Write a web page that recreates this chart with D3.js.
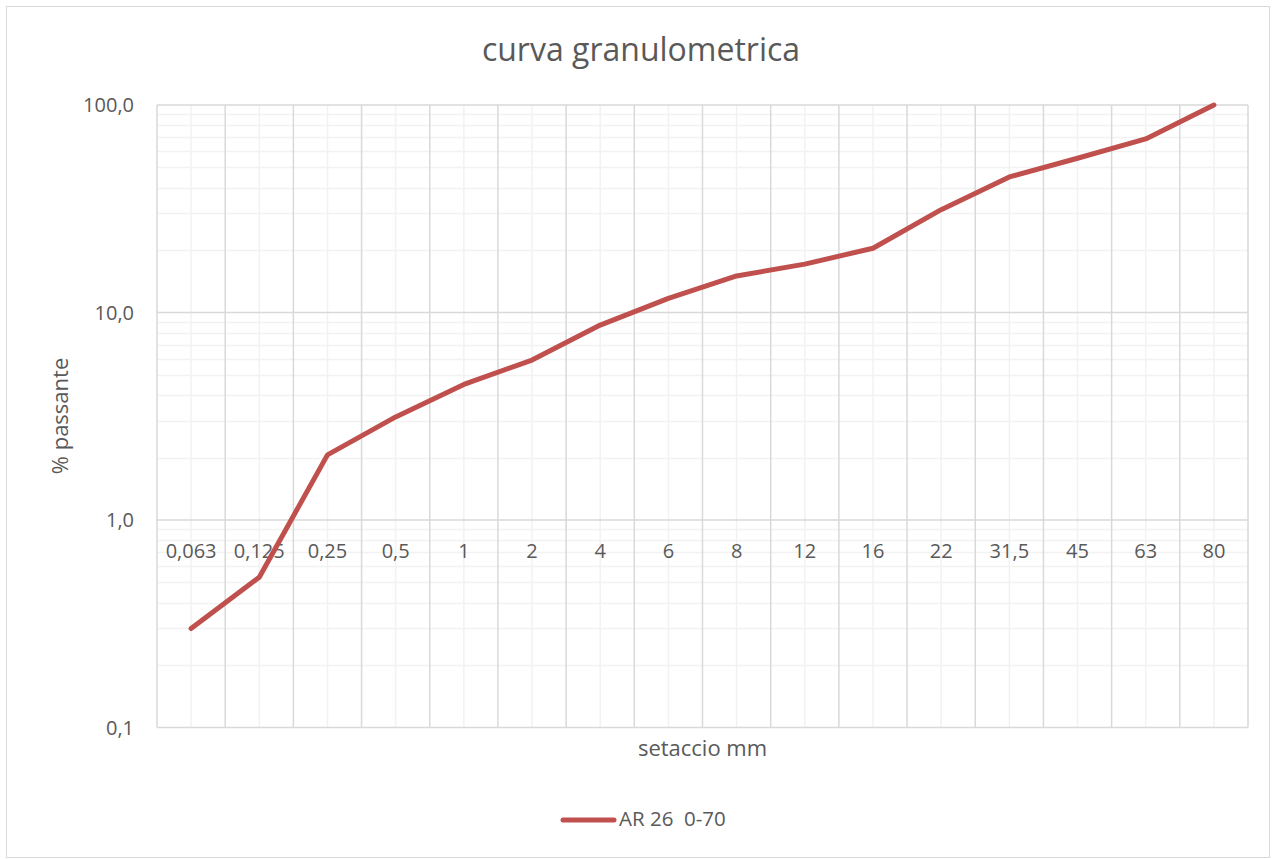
<!DOCTYPE html>
<html><head><meta charset="utf-8">
<script src="https://cdn.jsdelivr.net/npm/d3@7"></script>
<style>body{margin:0;background:#fff}svg{display:block}text{font-family:"Open Sans",sans-serif;fill:#595959;white-space:pre}</style>
</head><body>
<script>
const categories = ["0,063","0,125","0,25","0,5","1","2","4","6","8","12","16","22","31,5","45","63","80"];
const passing = [0.30,0.53,2.06,3.14,4.5,5.9,8.7,11.7,15.0,17.1,20.4,31.3,45.0,55.4,68.6,100];
const yTicks = [0.1,1,10,100];
const seriesName = "AR 26  0-70";
const title = "curva granulometrica";
const xTitle = "setaccio mm";
const yTitle = "% passante";

const W=1276,H=859;
const svg=d3.select("body").append("svg").attr("width",W).attr("height",H);
svg.append("rect").attr("x",6.5).attr("y",6.5).attr("width",1263).attr("height",851).attr("fill","#fff").attr("stroke","#d9d9d9");

const L=157,R=1248,T=105,B=727.5;
const x=d3.scaleBand().domain(categories).range([L,R]).padding(0);
const y=d3.scaleLog().domain([0.1,100]).range([B,T]);

const g=svg.append("g");
const minors=[];
for(let d=0.1;d<100;d*=10){for(let k=2;k<=9;k++)minors.push(+(d*k).toFixed(3));}
g.selectAll(".hmin").data(minors).join("line").attr("x1",L).attr("x2",R)
 .attr("y1",d=>Math.round(y(d))+0.5).attr("y2",d=>Math.round(y(d))+0.5).attr("stroke","#f2f2f2").attr("stroke-width",1.5);
g.selectAll(".vmin").data(categories).join("line").attr("y1",T).attr("y2",B)
 .attr("x1",d=>x(d)+x.bandwidth()/2).attr("x2",d=>x(d)+x.bandwidth()/2).attr("stroke","#f2f2f2").attr("stroke-width",1.5);
const bounds=categories.map(c=>x(c)).concat([R]);
g.selectAll(".vmaj").data(bounds).join("line").attr("y1",T).attr("y2",B)
 .attr("x1",d=>d).attr("x2",d=>d).attr("stroke","#d9d9d9").attr("stroke-width",1.5);
g.selectAll(".hmaj").data(yTicks).join("line").attr("x1",L).attr("x2",R)
 .attr("y1",d=>y(d)).attr("y2",d=>y(d)).attr("stroke","#d9d9d9").attr("stroke-width",1.5);

const fmt=d=>d.toFixed(1).replace(".",",");
svg.selectAll(".yt").data(yTicks).join("text").attr("x",134).attr("y",d=>y(d)).attr("dy","0.35em")
 .attr("text-anchor","end").attr("font-size",20).text(fmt);

svg.selectAll(".xt").data(categories).join("text").attr("x",d=>x(d)+x.bandwidth()/2).attr("y",y(1)+31)
 .attr("dy","0.35em").attr("text-anchor","middle").attr("font-size",20).text(d=>d);

const line=d3.line().x((d,i)=>x(categories[i])+x.bandwidth()/2).y(d=>y(d));
svg.append("path").datum(passing).attr("d",line).attr("fill","none").attr("stroke","#C0504D")
 .attr("stroke-width",5).attr("stroke-linejoin","round").attr("stroke-linecap","round");

svg.append("text").attr("x",641).attr("y",50).attr("dy","0.35em").attr("text-anchor","middle").attr("font-size",32).text(title);
svg.append("text").attr("x",(L+R)/2).attr("y",748).attr("dy","0.35em").attr("text-anchor","middle").attr("font-size",22).text(xTitle);
svg.append("text").attr("transform","translate(60,416) rotate(-90)").attr("dy","0.35em").attr("text-anchor","middle").attr("font-size",22).text(yTitle);

svg.append("line").attr("x1",563).attr("x2",614).attr("y1",820).attr("y2",820).attr("stroke","#C0504D").attr("stroke-width",5).attr("stroke-linecap","round");
svg.append("text").attr("x",619).attr("y",819).attr("dy","0.35em").attr("font-size",20.5).text(seriesName);
</script>
</body></html>
